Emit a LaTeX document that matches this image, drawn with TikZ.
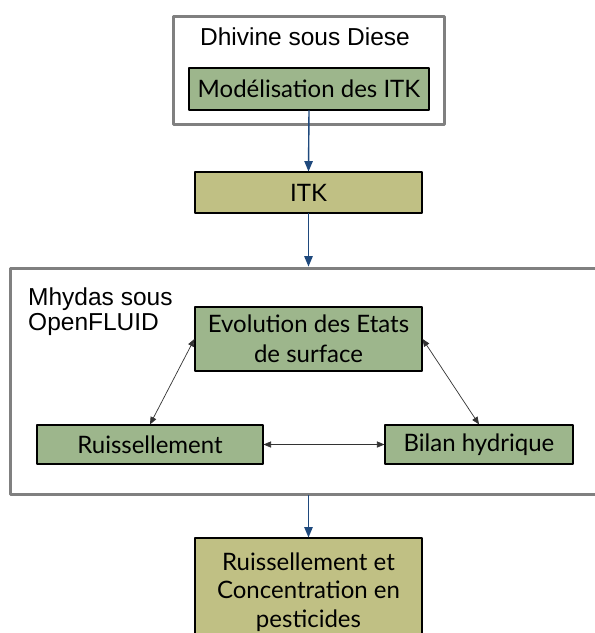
\documentclass[tikz,border=0pt]{standalone}
\usepackage{fontspec}
\setmainfont{Lato}
\newfontfamily\arialfont{Liberation Sans}
\usetikzlibrary{arrows}
\definecolor{boxgreen}{RGB}{157,182,140}
\definecolor{boxkhaki}{RGB}{192,192,132}
\definecolor{linkblue}{RGB}{31,73,125}
\definecolor{framegray}{RGB}{128,128,128}

\begin{document}
\begin{tikzpicture}[line cap=round,line join=round,>=triangle 45,x=1pt,y=-1pt,
  frame/.style={draw=framegray,line width=3pt,fill=white,inner sep=0pt},
  greenbox/.style={draw=black,line width=1.2pt,fill=boxgreen,align=center,font=\fontsize{24}{30}\selectfont,inner sep=0pt},
  khakibox/.style={draw=black,line width=1.2pt,fill=boxkhaki,align=center,font=\fontsize{24}{28.5}\selectfont,inner sep=0pt},
  framelabel/.style={font=\arialfont\fontsize{24.5}{25.5}\selectfont,inner sep=0pt},
  flow/.style={->,draw=linkblue,line width=1.4pt},
  link/.style={<->,draw=black!80,line width=0.7pt}]
 		\clip (0,0) rectangle (595,633);
 		\useasboundingbox (0,0) rectangle (595,633);
 		% Dhivine frame
 		\node[frame,minimum width=271pt,minimum height=108pt] (dhivine) at (308.5,70) {};
 		\node[framelabel,anchor=base] (dhivinelabel) at (305,45) {Dhivine sous Diese};
 		\node[greenbox,minimum width=240pt,minimum height=42pt] (modelisation) at (309,89) {Modélisation des ITK};
 		\node[khakibox,minimum width=227pt,minimum height=41pt] (itk) at (308.5,192.5) {ITK};
 		% Mhydas frame
 		\node[frame,minimum width=590pt,minimum height=226pt] (mhydas) at (305,381) {};
 		\node[framelabel,align=left,anchor=base west] (mhydaslabel) at (28,330.5) {Mhydas sous\\OpenFLUID};
 		\node[greenbox,minimum width=227pt,minimum height=64pt] (evolution) at (308.5,339) {Evolution des Etats\\de surface};
 		\node[greenbox,minimum width=226pt,minimum height=39pt] (ruissellement) at (150,444.5) {Ruissellement};
 		\node[greenbox,minimum width=188pt,minimum height=39pt] (bilan) at (479,444.5) {Bilan hydrique};
 		\node[khakibox,minimum width=227pt,minimum height=104pt] (sortie) at (308.5,590) {};
 		\node[align=center,font=\fontsize{24}{28.5}\selectfont,inner sep=0pt] (sortielabel) at (308.5,592) {Ruissellement et\\Concentration en\\pesticides};
 		% liens
 		\draw[flow] (modelisation.south) -- (itk.north);
 		\draw[flow] (itk.south) -- (itk.south |- mhydas.north);
 		\draw[flow] (itk.south |- mhydas.south) -- (sortie.north);
 		\draw[link] (evolution.west) -- (ruissellement.north);
 		\draw[link] (evolution.east) -- (bilan.north);
 		\draw[link] (ruissellement.east) -- (bilan.west);
 	\end{tikzpicture}
\end{document}
